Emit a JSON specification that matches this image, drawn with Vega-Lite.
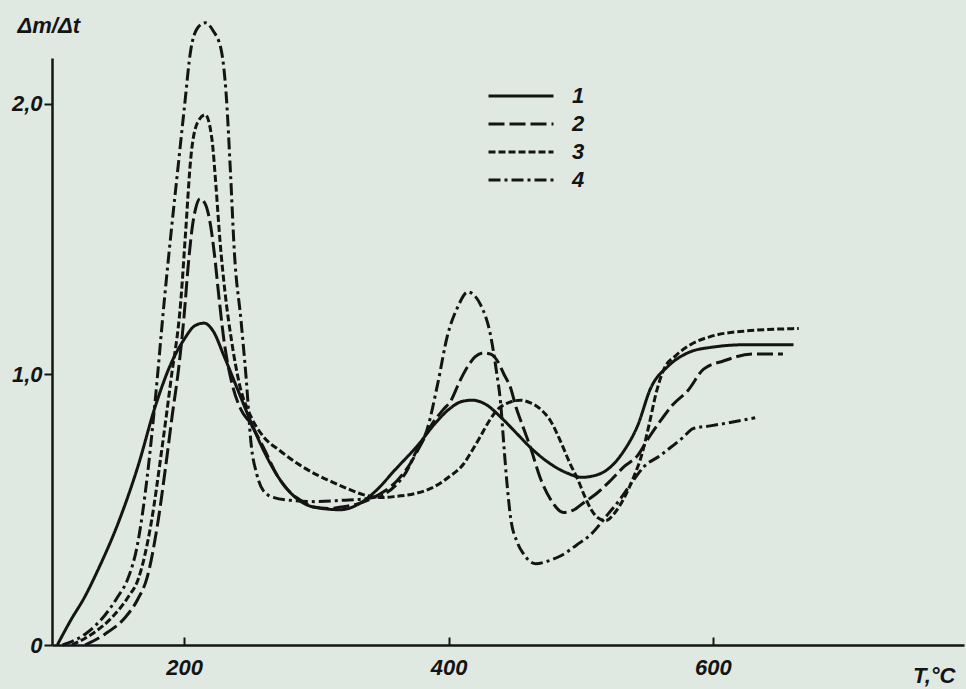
{
  "$schema": "https://vega.github.io/schema/vega-lite/v6.json",
  "width": 912,
  "height": 587,
  "autosize": {"type": "none"},
  "padding": {"left": 52, "top": 58, "right": 2, "bottom": 44},
  "background": "#e0e9e1",
  "config": {
    "view": {"stroke": null},
    "font": "Liberation Sans"
  },
  "data": {
    "values": [
      {"s":"1","t":104,"v":0},{"s":"1","t":114,"v":0.09},{"s":"1","t":125,"v":0.18},{"s":"1","t":135,"v":0.28},{"s":"1","t":150,"v":0.45},{"s":"1","t":165,"v":0.66},{"s":"1","t":178,"v":0.88},{"s":"1","t":190,"v":1.04},{"s":"1","t":200,"v":1.13},{"s":"1","t":208,"v":1.18},{"s":"1","t":215,"v":1.19},{"s":"1","t":222,"v":1.16},{"s":"1","t":230,"v":1.07},{"s":"1","t":240,"v":0.95},{"s":"1","t":250,"v":0.83},{"s":"1","t":260,"v":0.72},{"s":"1","t":270,"v":0.63},{"s":"1","t":281,"v":0.56},{"s":"1","t":298,"v":0.51},{"s":"1","t":318,"v":0.5},{"s":"1","t":335,"v":0.53},{"s":"1","t":345,"v":0.57},{"s":"1","t":360,"v":0.65},{"s":"1","t":377,"v":0.74},{"s":"1","t":390,"v":0.82},{"s":"1","t":400,"v":0.87},{"s":"1","t":410,"v":0.9},{"s":"1","t":418,"v":0.905},{"s":"1","t":428,"v":0.89},{"s":"1","t":440,"v":0.84},{"s":"1","t":452,"v":0.78},{"s":"1","t":462,"v":0.73},{"s":"1","t":477,"v":0.67},{"s":"1","t":490,"v":0.635},{"s":"1","t":501,"v":0.62},{"s":"1","t":513,"v":0.63},{"s":"1","t":523,"v":0.66},{"s":"1","t":533,"v":0.72},{"s":"1","t":543,"v":0.81},{"s":"1","t":553,"v":0.95},{"s":"1","t":566,"v":1.03},{"s":"1","t":581,"v":1.08},{"s":"1","t":598,"v":1.1},{"s":"1","t":625,"v":1.11},{"s":"1","t":661,"v":1.11},

      {"s":"2","t":125,"v":0},{"s":"2","t":140,"v":0.04},{"s":"2","t":155,"v":0.1},{"s":"2","t":165,"v":0.17},{"s":"2","t":172,"v":0.25},{"s":"2","t":180,"v":0.45},{"s":"2","t":186,"v":0.66},{"s":"2","t":191,"v":0.85},{"s":"2","t":196,"v":1.03},{"s":"2","t":200,"v":1.22},{"s":"2","t":203,"v":1.4},{"s":"2","t":206,"v":1.54},{"s":"2","t":209,"v":1.62},{"s":"2","t":212,"v":1.65},{"s":"2","t":216,"v":1.63},{"s":"2","t":220,"v":1.55},{"s":"2","t":223,"v":1.44},{"s":"2","t":226,"v":1.3},{"s":"2","t":230,"v":1.13},{"s":"2","t":236,"v":0.97},{"s":"2","t":243,"v":0.87},{"s":"2","t":250,"v":0.82},{"s":"2","t":260,"v":0.73},{"s":"2","t":270,"v":0.63},{"s":"2","t":281,"v":0.56},{"s":"2","t":290,"v":0.53},{"s":"2","t":298,"v":0.51},{"s":"2","t":310,"v":0.505},{"s":"2","t":318.5,"v":0.51},{"s":"2","t":330,"v":0.52},{"s":"2","t":341,"v":0.54},{"s":"2","t":352,"v":0.57},{"s":"2","t":361.6,"v":0.61},{"s":"2","t":371,"v":0.67},{"s":"2","t":379,"v":0.74},{"s":"2","t":388,"v":0.82},{"s":"2","t":396,"v":0.87},{"s":"2","t":402,"v":0.905},{"s":"2","t":408,"v":0.97},{"s":"2","t":414.6,"v":1.03},{"s":"2","t":420,"v":1.065},{"s":"2","t":426.7,"v":1.08},{"s":"2","t":432,"v":1.075},{"s":"2","t":437,"v":1.05},{"s":"2","t":442,"v":1.0},{"s":"2","t":447,"v":0.95},{"s":"2","t":451,"v":0.88},{"s":"2","t":454.6,"v":0.83},{"s":"2","t":462,"v":0.73},{"s":"2","t":470,"v":0.61},{"s":"2","t":477,"v":0.54},{"s":"2","t":487,"v":0.49},{"s":"2","t":495,"v":0.5},{"s":"2","t":502,"v":0.525},{"s":"2","t":512,"v":0.56},{"s":"2","t":523,"v":0.61},{"s":"2","t":533,"v":0.66},{"s":"2","t":543,"v":0.7},{"s":"2","t":552,"v":0.77},{"s":"2","t":560.5,"v":0.83},{"s":"2","t":570,"v":0.89},{"s":"2","t":581,"v":0.94},{"s":"2","t":593,"v":1.02},{"s":"2","t":608,"v":1.05},{"s":"2","t":631,"v":1.076},{"s":"2","t":653,"v":1.076},

      {"s":"3","t":115,"v":0},{"s":"3","t":130,"v":0.04},{"s":"3","t":145,"v":0.1},{"s":"3","t":158,"v":0.18},{"s":"3","t":165,"v":0.24},{"s":"3","t":175,"v":0.45},{"s":"3","t":183,"v":0.72},{"s":"3","t":190,"v":0.98},{"s":"3","t":197.5,"v":1.275},{"s":"3","t":201,"v":1.52},{"s":"3","t":205,"v":1.8},{"s":"3","t":210,"v":1.93},{"s":"3","t":216,"v":1.96},{"s":"3","t":221,"v":1.87},{"s":"3","t":224,"v":1.7},{"s":"3","t":227,"v":1.5},{"s":"3","t":231,"v":1.3},{"s":"3","t":236,"v":1.12},{"s":"3","t":242,"v":0.96},{"s":"3","t":250,"v":0.85},{"s":"3","t":260,"v":0.77},{"s":"3","t":272,"v":0.72},{"s":"3","t":286,"v":0.67},{"s":"3","t":300,"v":0.63},{"s":"3","t":311,"v":0.605},{"s":"3","t":325,"v":0.575},{"s":"3","t":336,"v":0.555},{"s":"3","t":350,"v":0.545},{"s":"3","t":361,"v":0.55},{"s":"3","t":375,"v":0.56},{"s":"3","t":387,"v":0.58},{"s":"3","t":400,"v":0.62},{"s":"3","t":411.5,"v":0.67},{"s":"3","t":418,"v":0.72},{"s":"3","t":424,"v":0.77},{"s":"3","t":431,"v":0.83},{"s":"3","t":437,"v":0.87},{"s":"3","t":445,"v":0.895},{"s":"3","t":454.6,"v":0.905},{"s":"3","t":462,"v":0.895},{"s":"3","t":470,"v":0.87},{"s":"3","t":477,"v":0.83},{"s":"3","t":485,"v":0.75},{"s":"3","t":492,"v":0.67},{"s":"3","t":498,"v":0.61},{"s":"3","t":503,"v":0.55},{"s":"3","t":508,"v":0.5},{"s":"3","t":513,"v":0.47},{"s":"3","t":519,"v":0.46},{"s":"3","t":526,"v":0.49},{"s":"3","t":532.5,"v":0.54},{"s":"3","t":540,"v":0.62},{"s":"3","t":546,"v":0.7},{"s":"3","t":552,"v":0.82},{"s":"3","t":557,"v":0.93},{"s":"3","t":563,"v":1.02},{"s":"3","t":572,"v":1.07},{"s":"3","t":583,"v":1.11},{"s":"3","t":598,"v":1.14},{"s":"3","t":623,"v":1.16},{"s":"3","t":665,"v":1.17},

      {"s":"4","t":108,"v":0},{"s":"4","t":125,"v":0.04},{"s":"4","t":140,"v":0.11},{"s":"4","t":150,"v":0.18},{"s":"4","t":157,"v":0.24},{"s":"4","t":165,"v":0.38},{"s":"4","t":172,"v":0.62},{"s":"4","t":178,"v":0.9},{"s":"4","t":185,"v":1.275},{"s":"4","t":190,"v":1.52},{"s":"4","t":195,"v":1.75},{"s":"4","t":200,"v":1.98},{"s":"4","t":205,"v":2.2},{"s":"4","t":210,"v":2.28},{"s":"4","t":216,"v":2.3},{"s":"4","t":222,"v":2.27},{"s":"4","t":228,"v":2.2},{"s":"4","t":232,"v":2.02},{"s":"4","t":235,"v":1.75},{"s":"4","t":238,"v":1.45},{"s":"4","t":243,"v":1.2},{"s":"4","t":247,"v":0.98},{"s":"4","t":250.5,"v":0.75},{"s":"4","t":255,"v":0.63},{"s":"4","t":260,"v":0.57},{"s":"4","t":268,"v":0.545},{"s":"4","t":280,"v":0.535},{"s":"4","t":300,"v":0.53},{"s":"4","t":320,"v":0.535},{"s":"4","t":336,"v":0.54},{"s":"4","t":350,"v":0.555},{"s":"4","t":360,"v":0.59},{"s":"4","t":368,"v":0.64},{"s":"4","t":375,"v":0.71},{"s":"4","t":384,"v":0.8},{"s":"4","t":392,"v":0.97},{"s":"4","t":399,"v":1.14},{"s":"4","t":407,"v":1.25},{"s":"4","t":414.6,"v":1.305},{"s":"4","t":420,"v":1.29},{"s":"4","t":424,"v":1.26},{"s":"4","t":432,"v":1.14},{"s":"4","t":436,"v":1.02},{"s":"4","t":439.5,"v":0.89},{"s":"4","t":442,"v":0.73},{"s":"4","t":444,"v":0.61},{"s":"4","t":447,"v":0.47},{"s":"4","t":452,"v":0.38},{"s":"4","t":457,"v":0.335},{"s":"4","t":466,"v":0.3},{"s":"4","t":475,"v":0.31},{"s":"4","t":485,"v":0.33},{"s":"4","t":497,"v":0.37},{"s":"4","t":508,"v":0.41},{"s":"4","t":520,"v":0.48},{"s":"4","t":530,"v":0.54},{"s":"4","t":540,"v":0.61},{"s":"4","t":548,"v":0.66},{"s":"4","t":560,"v":0.7},{"s":"4","t":568,"v":0.73},{"s":"4","t":578,"v":0.77},{"s":"4","t":585,"v":0.8},{"s":"4","t":598,"v":0.81},{"s":"4","t":610,"v":0.82},{"s":"4","t":632,"v":0.84}
    ]
  },
  "mark": {"type": "line", "interpolate": "monotone", "color": "#141414", "strokeWidth": 3, "clip": false},
  "encoding": {
    "x": {
      "field": "t", "type": "quantitative",
      "scale": {"domain": [100, 790], "nice": false, "zero": false},
      "axis": {
        "values": [200, 400, 600], "grid": false,
        "domainColor": "#141414", "domainWidth": 2.5,
        "tickColor": "#141414", "tickWidth": 2, "tickSize": -8,
        "labelFont": "Liberation Sans", "labelFontSize": 22, "labelFontStyle": "italic", "labelFontWeight": "bold",
        "labelColor": "#141414", "labelPadding": 20, "labelDx": -8,
        "title": "T,°C", "titleFont": "Liberation Sans", "titleFontSize": 22, "titleFontStyle": "italic", "titleFontWeight": "bold",
        "titleColor": "#141414", "titleX": 903, "titleY": 30, "titleAlign": "right", "titleBaseline": "middle", "titleAnchor": null
      }
    },
    "y": {
      "field": "v", "type": "quantitative",
      "scale": {"domain": [0, 2.17], "nice": false},
      "axis": {
        "values": [0, 1, 2], "grid": false,
        "labelExpr": "datum.value == 0 ? '0' : replace(format(datum.value, '.1f'), '.', ',')",
        "domainColor": "#141414", "domainWidth": 2.5,
        "tickColor": "#141414", "tickWidth": 2, "tickSize": 8,
        "labelFont": "Liberation Sans", "labelFontSize": 22, "labelFontStyle": "italic", "labelFontWeight": "bold",
        "labelColor": "#141414", "labelPadding": 2,
        "title": "Δm/Δt", "titleFont": "Liberation Sans", "titleFontSize": 22, "titleFontStyle": "italic", "titleFontWeight": "bold",
        "titleColor": "#141414", "titleAngle": 0, "titleX": -35, "titleY": -26, "titleAlign": "left", "titleBaseline": "alphabetic", "titleAnchor": null
      }
    },
    "strokeDash": {
      "field": "s", "type": "nominal",
      "scale": {"domain": ["1", "2", "3", "4"], "range": [[1, 0], [16, 5], [7, 3], [12, 4, 3, 4]]},
      "legend": {
        "title": null, "orient": "none", "legendX": 435, "legendY": 24,
        "symbolType": "stroke", "symbolSize": 4225, "symbolStrokeWidth": 3, "symbolStrokeColor": "#141414",
        "clipHeight": 28, "rowPadding": 0,
        "labelFont": "Liberation Sans", "labelFontSize": 22, "labelFontStyle": "italic", "labelFontWeight": "bold",
        "labelColor": "#141414", "labelOffset": 17
      }
    }
  }
}
